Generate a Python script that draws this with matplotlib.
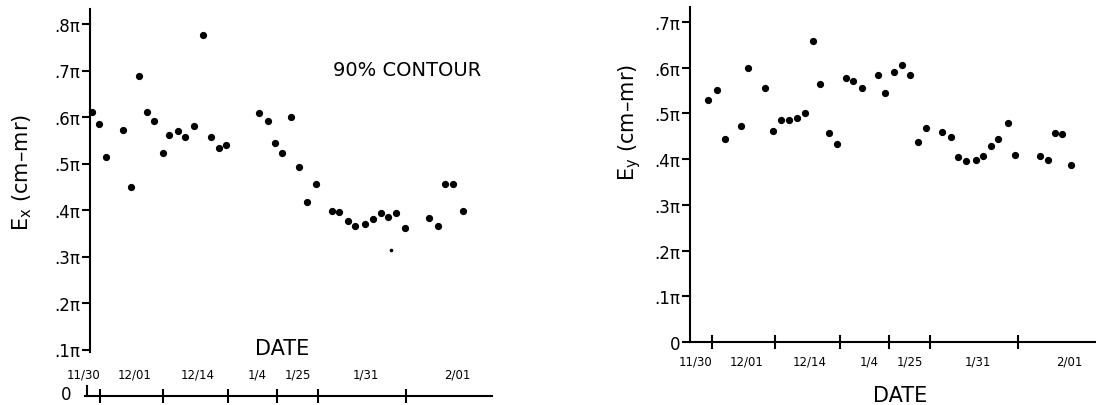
import matplotlib
matplotlib.use("Agg")
import matplotlib.pyplot as plt

# ---------------- data ----------------
# positions along the (non-uniform) date axis, and emittance in units of 0.1*pi
ex_pos = [4.7, 12, 19, 36.3, 44, 52, 59.7, 67.3, 75.7, 82.3, 91.3, 98.3, 107, 116,
          123.7, 131.7, 139.3, 172.3, 180.7, 187.7, 195.3, 204, 212, 220.3, 228.7,
          245, 252, 261, 267.7, 278, 285.7, 293.7, 300.7, 308.7, 317.7, 342,
          350.7, 358, 366.3, 375.7]
ex_val = [6.11, 5.84, 5.15, 5.72, 4.50, 6.88, 6.11, 5.91, 5.22, 5.61, 5.69, 5.58,
          5.80, 7.77, 5.56, 5.33, 5.40, 6.08, 5.91, 5.45, 5.23, 6.01, 4.93, 4.17,
          4.55, 3.98, 3.96, 3.76, 3.65, 3.69, 3.80, 3.93, 3.86, 3.94, 3.61, 3.82,
          3.66, 4.56, 4.56, 3.98]
ex_faint_pos = [304]
ex_faint_val = [3.15]

ey_pos = [9.3, 17.7, 25.7, 42.3, 49.3, 65.7, 74.3, 81.7, 89.7, 98.3, 106.3, 113.7,
          121.3, 129.7, 138, 146.5, 154, 162.7, 179.3, 186, 195, 202.7, 211.3,
          218.7, 227.3, 243.3, 251.7, 258.7, 267, 277, 284, 291.7, 299.3, 309, 316,
          341.3, 348.7, 356, 363, 372.3]
ey_val = [5.30, 5.51, 4.45, 4.72, 6.00, 5.56, 4.61, 4.86, 4.86, 4.90, 5.01, 6.58,
          5.65, 4.57, 4.34, 5.77, 5.70, 5.56, 5.84, 5.45, 5.91, 6.06, 5.85, 4.38,
          4.68, 4.59, 4.48, 4.04, 3.97, 3.98, 4.07, 4.28, 4.44, 4.80, 4.09, 4.07,
          3.99, 4.57, 4.56, 3.87]

date_ticks = [13, 76, 141, 190, 231, 319]
date_labels = ['11/30', '12/01', '12/14', '1/4', '1/25', '1/31', '2/01']
date_label_pos = [-3, 48, 111, 170, 211, 279, 370]

ex_yticks = [1, 2, 3, 4, 5, 6, 7, 8]
ex_yticklabels = ['.1π', '.2π', '.3π', '.4π', '.5π', '.6π', '.7π', '.8π']
ey_yticks = [0, 1, 2, 3, 4, 5, 6, 7]
ey_yticklabels = ['0', '.1π', '.2π', '.3π', '.4π', '.5π', '.6π', '.7π']

# ---------------- figure ----------------
W, H = 1096, 406
fig = plt.figure(figsize=(W / 100, H / 100), dpi=100)
plt.rcParams['font.family'] = ['DejaVu Sans']

LW = 1.5

def style(ax):
    for s in ('top', 'right'):
        ax.spines[s].set_visible(False)
    for s in ('left', 'bottom'):
        ax.spines[s].set_linewidth(LW)
    ax.tick_params(axis='y', direction='out', length=6, width=LW, pad=1,
                   labelsize=12)
    ax.tick_params(axis='x', direction='inout', length=10, width=LW,
                   labelbottom=False)
    ax.set_xticks(date_ticks)
    ax.patch.set_alpha(0)

# ---- left panel (E_x) ----
ax1 = fig.add_axes([85 / W, 9 / H, 407 / W, 390.6 / H])
ax1.set_xlim(-2, 405)
ax1.set_ylim(0, 8.4)
style(ax1)
ax1.spines['left'].set_position(('data', 3))
ax1.spines['left'].set_bounds(0.95, 8.32)
ax1.set_yticks(ex_yticks)
ax1.set_yticklabels(ex_yticklabels)
ax1.axvline(0, ymin=0, ymax=0.025, color='black', lw=LW)
ax1.plot(ex_pos, ex_val, 'o', ms=4.2, color='black', clip_on=False)
ax1.plot(ex_faint_pos, ex_faint_val, 'o', ms=1.6, color='black')
for p, lab in zip(date_label_pos, date_labels):
    ax1.text(p, 0.47, lab, ha='center', va='center', fontsize=8.5)
ax1.text(-16, 0.05, '0', ha='right', va='center', fontsize=12)

# ---- right panel (E_y) ----
ax2 = fig.add_axes([690 / W, 63 / H, 406 / W, 338.2 / H])
ax2.set_xlim(-9, 397)
ax2.set_ylim(0, 7.4)
style(ax2)
ax2.spines['left'].set_bounds(0, 7.33)
ax2.set_yticks(ey_yticks)
ax2.set_yticklabels(ey_yticklabels)
ax2.plot(ey_pos, ey_val, 'o', ms=4.2, color='black', clip_on=False)
for p, lab in zip(date_label_pos, date_labels):
    ax2.text(p, -0.42, lab, ha='center', va='center', fontsize=8.5)

# ---- annotations ----
fig.text(22 / W, 1 - 173 / H, r'E$_{\mathregular{x}}$ (cm–mr)', rotation=90,
         ha='center', va='center', fontsize=15)
fig.text(630 / W, 1 - 123 / H, r'E$_{\mathregular{y}}$ (cm–mr)', rotation=90,
         ha='center', va='center', fontsize=15)
fig.text(407 / W, 1 - 70 / H, '90% CONTOUR', ha='center', va='center',
         fontsize=14)
fig.text(282 / W, 1 - 349 / H, 'DATE', ha='center', va='center', fontsize=15)
fig.text(900 / W, 1 - 396 / H, 'DATE', ha='center', va='center', fontsize=15)

fig.savefig('out.png', dpi=100)
